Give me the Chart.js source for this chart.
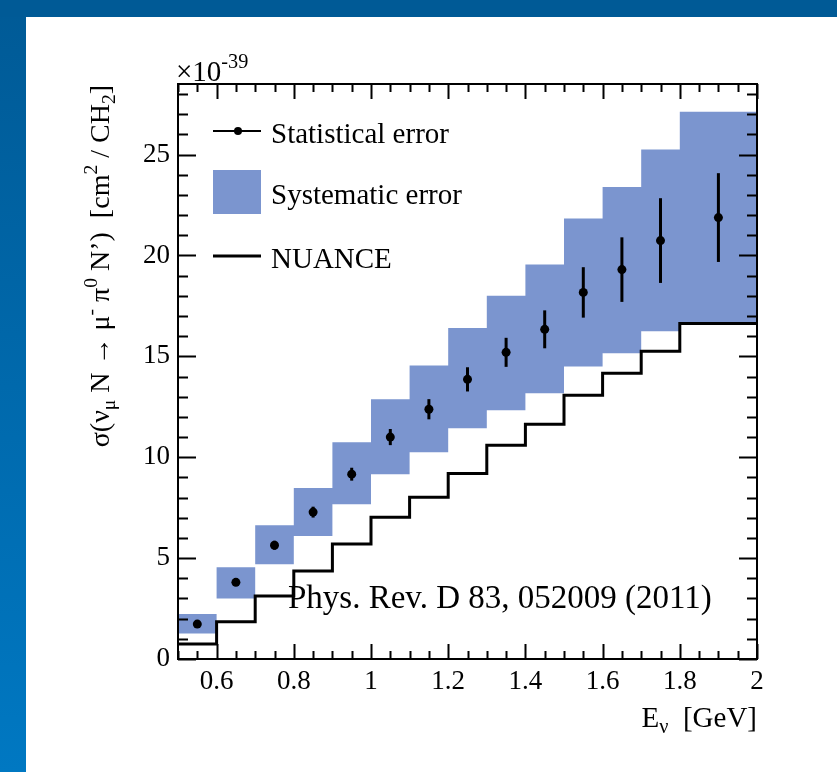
<!DOCTYPE html>
<html>
<head>
<meta charset="utf-8">
<script src="https://cdn.jsdelivr.net/npm/chart.js@4.4.1/dist/chart.umd.min.js"></script>
<style>
  html, body { margin: 0; padding: 0; background: #fff; }
  #wrap { width: 837px; height: 772px; position: relative; }
</style>
</head>
<body>
<div id="wrap"><canvas id="xsChart" width="837" height="772"></canvas></div>
<script>
// Bins (GeV) and cross sections (x10^-39 cm^2 / CH2)
const binEdges = [0.5, 0.6, 0.7, 0.8, 0.9, 1.0, 1.1, 1.2, 1.3, 1.4, 1.5, 1.6, 1.7, 1.8, 2.0];
const binCenters = [0.55, 0.65, 0.75, 0.85, 0.95, 1.05, 1.15, 1.25, 1.35, 1.45, 1.55, 1.65, 1.75, 1.9];
const xsec = [1.73, 3.8, 5.64, 7.28, 9.16, 11.0, 12.38, 13.86, 15.2, 16.34, 18.17, 19.3, 20.74, 21.88];
const statErr = [0.15, 0.18, 0.22, 0.27, 0.32, 0.4, 0.5, 0.6, 0.72, 0.94, 1.25, 1.6, 2.1, 2.2];
const sysHigh = [2.23, 4.55, 6.63, 8.47, 10.74, 12.87, 14.55, 16.4, 18.0, 19.55, 21.83, 23.4, 25.25, 27.13];
const sysLow = [1.27, 3.0, 4.7, 6.1, 7.67, 9.16, 10.25, 11.44, 12.33, 13.17, 14.5, 15.15, 16.24, 16.68];
const nuance = [0.74, 1.85, 3.12, 4.36, 5.7, 7.03, 8.02, 9.2, 10.6, 11.63, 13.07, 14.16, 15.25, 16.63];

const xTicks = [0.6, 0.8, 1.0, 1.2, 1.4, 1.6, 1.8, 2.0];
const yTicks = [0, 5, 10, 15, 20, 25];

const SERIF = '"Liberation Serif", "DejaVu Serif", serif';
const SYS_BLUE = 'rgb(123, 149, 207)';

// histogram as stepped points: one point per lower edge, last value repeated at the end
function stepPoints(vals) {
    const pts = vals.map((v, i) => ({ x: binEdges[i], y: v }));
    pts.push({ x: binEdges[binEdges.length - 1], y: vals[vals.length - 1] });
    return pts;
}

// text with sub/superscripts: segs = [[text, 'sup'|'sub'|null], ...]
function drawRich(ctx, segs, x, y, size, align) {
    const small = size * 0.7;
    let total = 0;
    segs.forEach(s => {
        ctx.font = (s[1] ? small : size) + 'px ' + SERIF;
        total += ctx.measureText(s[0]).width;
    });
    let cx = align === 'center' ? x - total / 2 : (align === 'right' ? x - total : x);
    ctx.textAlign = 'left';
    ctx.textBaseline = 'alphabetic';
    segs.forEach(s => {
        ctx.font = (s[1] ? small : size) + 'px ' + SERIF;
        let dy = 0;
        if (s[1] === 'sup') dy = -size * 0.44;
        if (s[1] === 'sub') dy = size * 0.22;
        ctx.fillText(s[0], cx, y + dy);
        cx += ctx.measureText(s[0]).width;
    });
}

const decorPlugin = {
    id: 'decor',
    beforeDraw(chart) {
        const ctx = chart.ctx;
        ctx.save();
        ctx.fillStyle = '#fff';
        ctx.fillRect(0, 0, chart.width, chart.height);
        const g = ctx.createLinearGradient(0, 0, 0, chart.height);
        g.addColorStop(0, '#005a96');
        g.addColorStop(1, '#0078c2');
        ctx.fillStyle = g;
        ctx.fillRect(0, 0, 26, chart.height);
        ctx.fillStyle = '#005a96';
        ctx.fillRect(0, 0, chart.width, 17);
        ctx.restore();
    },
    afterDatasetsDraw(chart) {
        const ctx = chart.ctx;
        const xs = chart.scales.x, ys = chart.scales.y;
        const a = chart.chartArea;
        ctx.save();
        ctx.strokeStyle = '#000';
        ctx.fillStyle = '#000';

        // statistical error bars
        ctx.lineWidth = 3;
        binCenters.forEach((c, i) => {
            const px = xs.getPixelForValue(c);
            ctx.beginPath();
            ctx.moveTo(px, ys.getPixelForValue(xsec[i] - statErr[i]));
            ctx.lineTo(px, ys.getPixelForValue(xsec[i] + statErr[i]));
            ctx.stroke();
        });

        // frame and inward ticks (ROOT style)
        ctx.lineWidth = 2;
        ctx.strokeRect(a.left, a.top, a.right - a.left, a.bottom - a.top);
        ctx.beginPath();
        for (let k = 0; k <= 30; k++) {
            const v = 0.5 + k * 0.05;
            const px = Math.round(xs.getPixelForValue(v)) + 0.5;
            const major = k >= 2 && (k - 2) % 4 === 0;
            const len = major ? 15 : 8;
            ctx.moveTo(px, a.bottom); ctx.lineTo(px, a.bottom - len);
            ctx.moveTo(px, a.top); ctx.lineTo(px, a.top + len);
        }
        for (let v = 0; v <= 28; v++) {
            const py = Math.round(ys.getPixelForValue(v)) + 0.5;
            const len = v % 5 === 0 ? 18 : 10;
            ctx.moveTo(a.left, py); ctx.lineTo(a.left + len, py);
            ctx.moveTo(a.right, py); ctx.lineTo(a.right - len, py);
        }
        ctx.stroke();

        // legend
        ctx.lineWidth = 2;
        ctx.beginPath();
        ctx.moveTo(213, 131); ctx.lineTo(261, 131);
        ctx.stroke();
        ctx.beginPath();
        ctx.arc(238, 131, 4, 0, Math.PI * 2);
        ctx.fill();
        ctx.fillStyle = SYS_BLUE;
        ctx.fillRect(213, 170, 48, 44);
        ctx.lineWidth = 3;
        ctx.beginPath();
        ctx.moveTo(213, 256); ctx.lineTo(261, 256);
        ctx.stroke();
        ctx.fillStyle = '#000';
        drawRich(ctx, [['Statistical error', null]], 271, 143, 29, 'left');
        drawRich(ctx, [['Systematic error', null]], 271, 204, 29, 'left');
        drawRich(ctx, [['NUANCE', null]], 271, 268, 29, 'left');

        // reference
        drawRich(ctx, [['Phys. Rev. D 83, 052009 (2011)', null]], 288, 608, 33, 'left');

        // exponent
        drawRich(ctx, [['\u00d710', null], ['-39', 'sup']], 176, 81, 29, 'left');

        // x title, aligned to the end of the axis
        drawRich(ctx, [['E', null], ['\u03bd', 'sub'], ['  [GeV]', null]], 757, 727, 29, 'right');

        // y title, aligned to the top of the axis
        ctx.translate(109, 85);
        ctx.rotate(-Math.PI / 2);
        drawRich(ctx, [
            ['\u03c3(\u03bd', null], ['\u03bc', 'sub'], [' N \u2192 \u03bc', null], ['-', 'sup'],
            [' \u03c0', null], ['0', 'sup'], [' N\u2019)  [cm', null], ['2', 'sup'],
            [' / CH', null], ['2', 'sub'], [']', null]
        ], 0, 0, 28, 'right');
        ctx.restore();
    }
};

const ctx = document.getElementById('xsChart').getContext('2d');
const xsChart = new Chart(ctx, {
    type: 'scatter',
    data: {
        datasets: [
            {
                label: 'Statistical error',
                data: binCenters.map((c, i) => ({ x: c, y: xsec[i] })),
                pointRadius: 4.5,
                pointBackgroundColor: '#000',
                pointBorderWidth: 0,
                order: 0
            },
            {
                label: 'NUANCE',
                type: 'line',
                data: stepPoints(nuance),
                stepped: 'before',
                borderColor: '#000',
                borderWidth: 3,
                pointRadius: 0,
                fill: false,
                order: 1
            },
            {
                label: 'sysHigh',
                type: 'line',
                data: stepPoints(sysHigh),
                stepped: 'before',
                borderWidth: 0,
                borderColor: 'rgba(0,0,0,0)',
                pointRadius: 0,
                fill: false,
                order: 2
            },
            {
                label: 'Systematic error',
                type: 'line',
                data: stepPoints(sysLow),
                stepped: 'before',
                borderWidth: 0,
                borderColor: 'rgba(0,0,0,0)',
                backgroundColor: SYS_BLUE,
                pointRadius: 0,
                fill: '-1',
                order: 3
            }
        ]
    },
    options: {
        responsive: false,
        animation: false,
        layout: { padding: { left: 0, top: 84, right: 80, bottom: 0 } },
        plugins: { legend: { display: false }, tooltip: { enabled: false } },
        scales: {
            x: {
                type: 'linear',
                min: 0.5,
                max: 2,
                afterBuildTicks: scale => { scale.ticks = xTicks.map(v => ({ value: v })); },
                afterFit: scale => { scale.height = 113; },
                grid: { display: false, drawTicks: false },
                border: { display: false },
                ticks: {
                    color: '#000',
                    padding: 7,
                    maxRotation: 0,
                    font: { family: SERIF, size: 27 },
                    callback: v => String(Number(v.toFixed(1)))
                }
            },
            y: {
                type: 'linear',
                min: 0,
                max: 28.5,
                afterBuildTicks: scale => { scale.ticks = yTicks.map(v => ({ value: v })); },
                afterFit: scale => { scale.width = 178; },
                grid: { display: false, drawTicks: false },
                border: { display: false },
                ticks: {
                    color: '#000',
                    padding: 8,
                    font: { family: SERIF, size: 27 },
                    callback: v => String(v)
                }
            }
        }
    },
    plugins: [decorPlugin]
});
</script>
</body>
</html>
